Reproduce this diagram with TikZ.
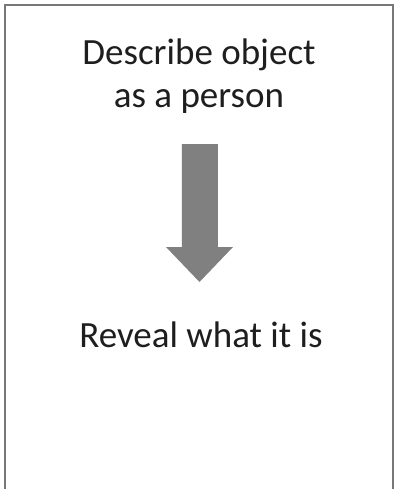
\documentclass[tikz,border=0pt]{standalone}
\usepackage{fontspec}
\setmainfont{Carlito}
\usetikzlibrary{positioning}
\definecolor{framegray}{RGB}{120,120,120}
\definecolor{arrowgray}{RGB}{128,128,128}
\definecolor{textgray}{RGB}{30,30,30}
\tikzset{
  label text/.style={align=center,font=\fontsize{18.5}{21.5}\selectfont,text=textgray,inner sep=0pt},
  frame/.style={draw=framegray,line width=0.8pt},
  block arrow/.style={fill=arrowgray,draw=none},
}
\begin{document}
\begin{tikzpicture}[x=0.5pt,y=-0.5pt]
  \useasboundingbox (0,0) rectangle (395,489);
  \draw[frame] (5,500) -- (5,5) -- (393,5) -- (393,500);
  \node[label text,anchor=base] (top) at (199,107) {Describe object\\as a person};
  \node[label text,anchor=base] (bottom) at (201,347) {Reveal what it is};
  % block arrow between the two texts
  \fill[block arrow] (182,144) -- (218,144) -- (218,247) -- (233,247)
    -- (199.5,282) -- (166,247) -- (182,247) -- cycle;
\end{tikzpicture}
\end{document}
